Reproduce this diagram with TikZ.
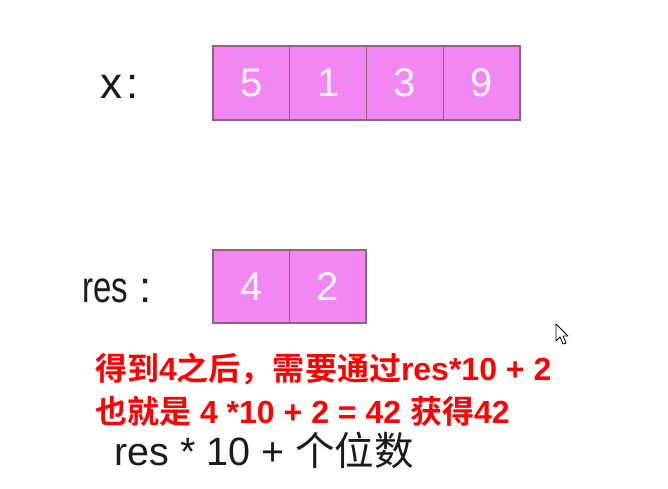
\documentclass[tikz,border=0pt]{standalone}
\usepackage{fontspec}
\setmainfont{Liberation Sans}
\newfontfamily\cjk{Noto Sans CJK SC}[BoldFont={Noto Sans CJK SC Bold}]
\definecolor{cellpink}{RGB}{242,134,242}
\definecolor{cellline}{RGB}{150,96,120}
\definecolor{digitwhite}{RGB}{255,244,255}
\definecolor{inkgray}{RGB}{26,26,26}

\begin{document}
\begin{tikzpicture}[x=1pt,y=-1pt,
    cell/.style={draw=cellline,fill=cellpink,line width=1.2pt,
      minimum width=76.75pt,minimum height=74pt,inner sep=0pt,
      text=digitwhite,font=\fontsize{40}{40}\selectfont},
    rowname/.style={anchor=base west,inner sep=0pt,text=inkgray,
      font=\fontsize{44}{44}\selectfont},
    note/.style={anchor=base west,inner sep=0pt,text=red,
      font=\bfseries\fontsize{32}{32}\selectfont},
    formula/.style={anchor=base west,inner sep=0pt,text=inkgray,
      font=\fontsize{39.5}{39.5}\selectfont}]
  \useasboundingbox (0,0) rectangle (668,488);
  \fill[white] (0,0) rectangle (668,488);

  % x row
  \node[rowname] (xname) at (100,98) {x\kern4pt:};
  \foreach \d [count=\i] in {5,1,3,9}
    \node[cell] (x\i) at ({213+38.375+76.75*(\i-1)},83) {\d};

  % res row
  \node[rowname] (resname) at (82,302) {\scalebox{0.75}[1]{res}\kern11pt:};
  \foreach \d [count=\i] in {4,2}
    \node[cell,minimum width=76.5pt,minimum height=73pt] (r\i) at ({213+38.25+76.5*(\i-1)},286.5) {\d};

  % notes
  \node[note] (line1) at (95,380) {{\cjk 得到}4{\cjk 之后，需要通过}res*10 + 2};
  \node[note] (line2) at (95,423) {{\cjk 也就是} 4 *10 + 2 = 42 {\cjk 获得}42};
  \node[formula] (line3) at (114,465) {res * 10 + {\cjk 个位数}};

  % pointer
  \draw[fill=white,line width=0.8pt,line join=round]
    (556,324) -- (556,341) -- (560,337) -- (563,344) -- (566,343)
    -- (563,336) -- (568,336) -- cycle;
\end{tikzpicture}
\end{document}
